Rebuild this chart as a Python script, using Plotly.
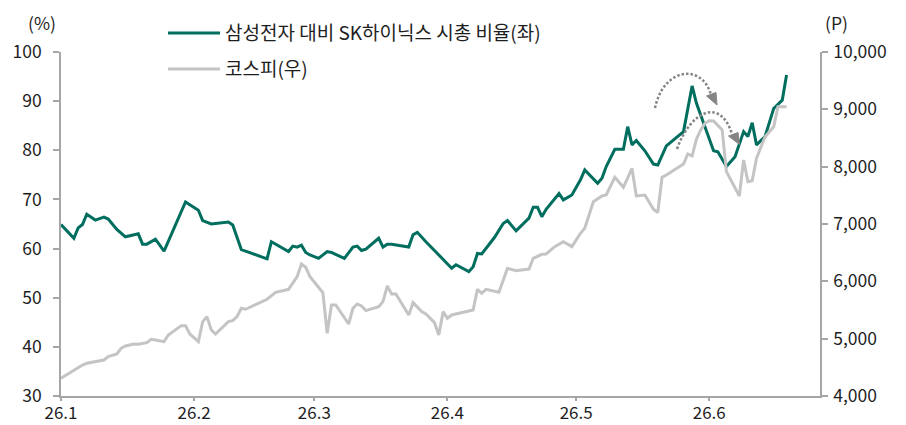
import plotly.graph_objects as go

# ---------------- data ----------------
ratio_dates = [
    "2026-01-01", "2026-01-04", "2026-01-05", "2026-01-06", "2026-01-07", "2026-01-09",
    "2026-01-11", "2026-01-12", "2026-01-14", "2026-01-16", "2026-01-19", "2026-01-20",
    "2026-01-21", "2026-01-23", "2026-01-25", "2026-01-28", "2026-01-30", "2026-01-31",
    "2026-02-02", "2026-02-03", "2026-02-05", "2026-02-09", "2026-02-10", "2026-02-12",
    "2026-02-18", "2026-02-19", "2026-02-23", "2026-02-24", "2026-02-25", "2026-02-26",
    "2026-02-27", "2026-02-28", "2026-03-02", "2026-03-04", "2026-03-05", "2026-03-08",
    "2026-03-10", "2026-03-11", "2026-03-12", "2026-03-13", "2026-03-16", "2026-03-17",
    "2026-03-18", "2026-03-19", "2026-03-23", "2026-03-24", "2026-03-25", "2026-03-27",
    "2026-03-29", "2026-03-31", "2026-04-01", "2026-04-02", "2026-04-03", "2026-04-06",
    "2026-04-07", "2026-04-08", "2026-04-09", "2026-04-10", "2026-04-12", "2026-04-14",
    "2026-04-15", "2026-04-17", "2026-04-20", "2026-04-21", "2026-04-22", "2026-04-23",
    "2026-04-24", "2026-04-27", "2026-04-28", "2026-04-30", "2026-05-02", "2026-05-03",
    "2026-05-06", "2026-05-07", "2026-05-08", "2026-05-10", "2026-05-12", "2026-05-13",
    "2026-05-14", "2026-05-15", "2026-05-17", "2026-05-19", "2026-05-20", "2026-05-22",
    "2026-05-26", "2026-05-28", "2026-05-29", "2026-05-30", "2026-06-02", "2026-06-03",
    "2026-06-05", "2026-06-07", "2026-06-09", "2026-06-10", "2026-06-11", "2026-06-12",
    "2026-06-14", "2026-06-16", "2026-06-18", "2026-06-19",
]
ratio_values = [
    64.9, 62.1, 64.2, 64.9, 67.0, 65.8,
    66.4, 66.0, 63.9, 62.4, 63.0, 60.9,
    60.9, 61.9, 59.5, 65.5, 69.5, 68.9,
    67.8, 65.7, 65.0, 65.4, 64.8, 59.8,
    57.9, 61.4, 59.4, 60.5, 60.3, 60.7,
    59.2, 58.7, 58.0, 59.4, 59.2, 58.0,
    60.3, 60.5, 59.6, 59.9, 62.1, 60.3,
    60.9, 60.9, 60.3, 62.8, 63.3, 61.4,
    59.6, 57.7, 56.7, 56.0, 56.7, 55.3,
    56.3, 59.0, 58.9, 60.0, 62.3, 65.1,
    65.7, 63.6, 66.2, 68.4, 68.4, 66.5,
    68.0, 71.2, 69.9, 70.9, 74.0, 76.0,
    73.3, 74.3, 76.7, 80.2, 80.2, 84.8,
    81.1, 82.0, 79.9, 77.2, 77.0, 80.9,
    83.8, 93.1, 89.6, 87.2, 79.9, 79.7,
    76.7, 78.7, 83.8, 82.8, 85.6, 81.1,
    82.8, 88.5, 90.2, 95.3,
]

kospi_dates = [
    "2026-01-01", "2026-01-03", "2026-01-04", "2026-01-06", "2026-01-07", "2026-01-09",
    "2026-01-11", "2026-01-12", "2026-01-14", "2026-01-15", "2026-01-16", "2026-01-18",
    "2026-01-19", "2026-01-21", "2026-01-22", "2026-01-23", "2026-01-25", "2026-01-26",
    "2026-01-28", "2026-01-29", "2026-01-30", "2026-01-31", "2026-02-02", "2026-02-03",
    "2026-02-04", "2026-02-05", "2026-02-06", "2026-02-09", "2026-02-10", "2026-02-11",
    "2026-02-12", "2026-02-13", "2026-02-18", "2026-02-20", "2026-02-23", "2026-02-25",
    "2026-02-26", "2026-02-27", "2026-02-28", "2026-03-03", "2026-03-04", "2026-03-05",
    "2026-03-06", "2026-03-09", "2026-03-10", "2026-03-11", "2026-03-12", "2026-03-13",
    "2026-03-16", "2026-03-17", "2026-03-18", "2026-03-19", "2026-03-20", "2026-03-23",
    "2026-03-24", "2026-03-26", "2026-03-27", "2026-03-29", "2026-03-30", "2026-03-31",
    "2026-04-01", "2026-04-02", "2026-04-07", "2026-04-08", "2026-04-09", "2026-04-10",
    "2026-04-13", "2026-04-15", "2026-04-17", "2026-04-20", "2026-04-21", "2026-04-23",
    "2026-04-24", "2026-04-26", "2026-04-28", "2026-04-30", "2026-05-02", "2026-05-03",
    "2026-05-05", "2026-05-07", "2026-05-08", "2026-05-10", "2026-05-12", "2026-05-14",
    "2026-05-15", "2026-05-17", "2026-05-19", "2026-05-20", "2026-05-21", "2026-05-22",
    "2026-05-26", "2026-05-27", "2026-05-28", "2026-05-29", "2026-05-30", "2026-05-31",
    "2026-06-01", "2026-06-02", "2026-06-04", "2026-06-05", "2026-06-08", "2026-06-09",
    "2026-06-10", "2026-06-11", "2026-06-12", "2026-06-14", "2026-06-16", "2026-06-17",
    "2026-06-19",
]
kospi_values = [
    4309, 4407, 4454, 4541, 4570, 4599,
    4628, 4686, 4733, 4832, 4872, 4907,
    4902, 4930, 4989, 4977, 4948, 5064,
    5181, 5227, 5227, 5082, 4948, 5297,
    5384, 5152, 5082, 5297, 5314, 5384,
    5530, 5513, 5687, 5809, 5861, 6081,
    6303, 6245, 6081, 5802, 5094, 5588,
    5588, 5256, 5530, 5605, 5570, 5489,
    5559, 5646, 5919, 5780, 5780, 5413,
    5628, 5471, 5431, 5279, 5064, 5471,
    5356, 5413, 5500, 5861, 5791, 5861,
    5809, 6227, 6186, 6215, 6402, 6472,
    6477, 6605, 6692, 6605, 6838, 6925,
    7389, 7489, 7506, 7815, 7640, 7972,
    7489, 7506, 7257, 7198, 7815, 7855,
    8047, 8221, 8186, 8477, 8640, 8756,
    8802, 8797, 8640, 7913, 7489, 8116,
    7738, 7756, 8146, 8523, 8697, 9046,
    9046,
]

x_tick_vals = ["2026-01-01", "2026-02-01", "2026-03-01", "2026-04-01", "2026-05-01", "2026-06-01"]
x_tick_text = ["26.1", "26.2", "26.3", "26.4", "26.5", "26.6"]
left_ticks = [30, 40, 50, 60, 70, 80, 90, 100]
right_ticks = [4000, 5000, 6000, 7000, 8000, 9000, 10000]
right_tick_text = ["4,000", "5,000", "6,000", "7,000", "8,000", "9,000", "10,000"]

name_ratio = "삼성전자 대비 SK하이닉스 시총 비율(좌)"
name_kospi = "코스피(우)"

# ---------------- style ----------------
OFF = 8                      # default page margin of the html body
W, H = 906 - OFF, 425 - OFF  # figure size so that it fills the window
# plot area in window pixels: x 61..820, y 52..396
ML = 61 - OFF
MT = 52 - OFF
MR = 906 - 820
MB = 425 - 396
PW, PH = W - ML - MR, H - MT - MB
GREEN = "#006E5E"
GRAY = "#C4C4C4"
AXIS = "#A6A6A6"
TXT = "#1E1E1E"
ARROW = "#858585"
FONT = "Noto Sans CJK KR"
FS = 17.5
FS_X = 17
FS_LEG = 19


def px(x):
    # window pixel x -> paper
    return (x - OFF - ML) / PW


def py(y):
    # window pixel y -> paper
    return (OFF + MT + PH - y) / PH


fig = go.Figure()
fig.add_trace(go.Scatter(x=kospi_dates, y=kospi_values, name=name_kospi, yaxis="y2",
                         mode="lines", line=dict(color=GRAY, width=3), showlegend=False))
fig.add_trace(go.Scatter(x=ratio_dates, y=ratio_values, name=name_ratio, yaxis="y",
                         mode="lines", line=dict(color=GREEN, width=3), showlegend=False))

shapes = []
annotations = []

# legend (drawn manually)
for yy, col, label in [(33, GREEN, name_ratio), (69, GRAY, name_kospi)]:
    shapes.append(dict(type="line", xref="paper", yref="paper", x0=px(168), x1=px(220),
                       y0=py(yy), y1=py(yy), line=dict(color=col, width=3)))
    annotations.append(dict(xref="paper", yref="paper", x=px(223), y=py(yy - 1), text=label,
                            showarrow=False, xanchor="left", yanchor="middle",
                            font=dict(family=FONT, size=FS_LEG, color=TXT)))

# axis unit labels
annotations.append(dict(xref="paper", yref="paper", x=px(42), y=py(22), text="(%)",
                        showarrow=False, xanchor="center", yanchor="middle",
                        font=dict(family=FONT, size=FS, color=TXT)))
annotations.append(dict(xref="paper", yref="paper", x=px(836), y=py(22), text="(P)",
                        showarrow=False, xanchor="center", yanchor="middle",
                        font=dict(family=FONT, size=FS, color=TXT)))


# dotted arcs with arrowheads
def arc(p0, c1, c2, p3):
    return "M {} {} C {} {} {} {} {} {}".format(px(p0[0]), py(p0[1]), px(c1[0]), py(c1[1]),
                                                px(c2[0]), py(c2[1]), px(p3[0]), py(p3[1]))


def tri(a, b, c):
    return "M {} {} L {} {} L {} {} Z".format(px(a[0]), py(a[1]), px(b[0]), py(b[1]),
                                              px(c[0]), py(c[1]))


for p0, c1, c2, p3, head in [
    ((655, 108), (664, 66), (703, 64), (711, 95), ((706.5, 96), (716, 92.5), (717, 105))),
    ((677, 149), (690, 112), (720, 96), (732, 134), ((728.5, 136), (738, 132.5), (739.5, 144.5))),
]:
    shapes.append(dict(type="path", xref="paper", yref="paper", path=arc(p0, c1, c2, p3),
                       line=dict(color=ARROW, width=2.5, dash="2.5px,2px")))
    shapes.append(dict(type="path", xref="paper", yref="paper", path=tri(*head),
                       fillcolor=ARROW, line=dict(color=ARROW, width=1)))

fig.update_layout(
    width=W, height=H,
    margin=dict(l=ML, r=MR, t=MT, b=MB, pad=0, autoexpand=False),
    paper_bgcolor="white", plot_bgcolor="white",
    font=dict(family=FONT, size=FS, color=TXT),
    showlegend=False,
    shapes=shapes, annotations=annotations,
    xaxis=dict(type="date", range=["2026-01-01", "2026-06-26 19:00"],
               tickvals=x_tick_vals, ticktext=x_tick_text, automargin=False,
               showline=True, linecolor=AXIS, linewidth=1.5, mirror=False,
               ticks="outside", ticklen=3, tickcolor=AXIS, tickwidth=1.5,
               showgrid=False, zeroline=False, fixedrange=True,
               ticklabelstandoff=-2,
               tickfont=dict(family=FONT, size=FS_X, color=TXT)),
    yaxis=dict(range=[30, 100], tickvals=left_ticks, automargin=False,
               showline=True, linecolor=AXIS, linewidth=1.5,
               ticks="outside", ticklen=6, tickcolor=AXIS, tickwidth=1.5,
               showgrid=False, zeroline=False, ticklabelstandoff=8,
               tickfont=dict(family=FONT, size=FS, color=TXT)),
    yaxis2=dict(range=[4000, 10000], tickvals=right_ticks, ticktext=right_tick_text,
                overlaying="y", side="right", anchor="x", automargin=False,
                showline=True, linecolor=AXIS, linewidth=1.5,
                ticks="outside", ticklen=6, tickcolor=AXIS, tickwidth=1.5,
                showgrid=False, zeroline=False, ticklabelstandoff=2,
                tickfont=dict(family=FONT, size=FS, color=TXT)),
)

fig.write_html("out.html")
